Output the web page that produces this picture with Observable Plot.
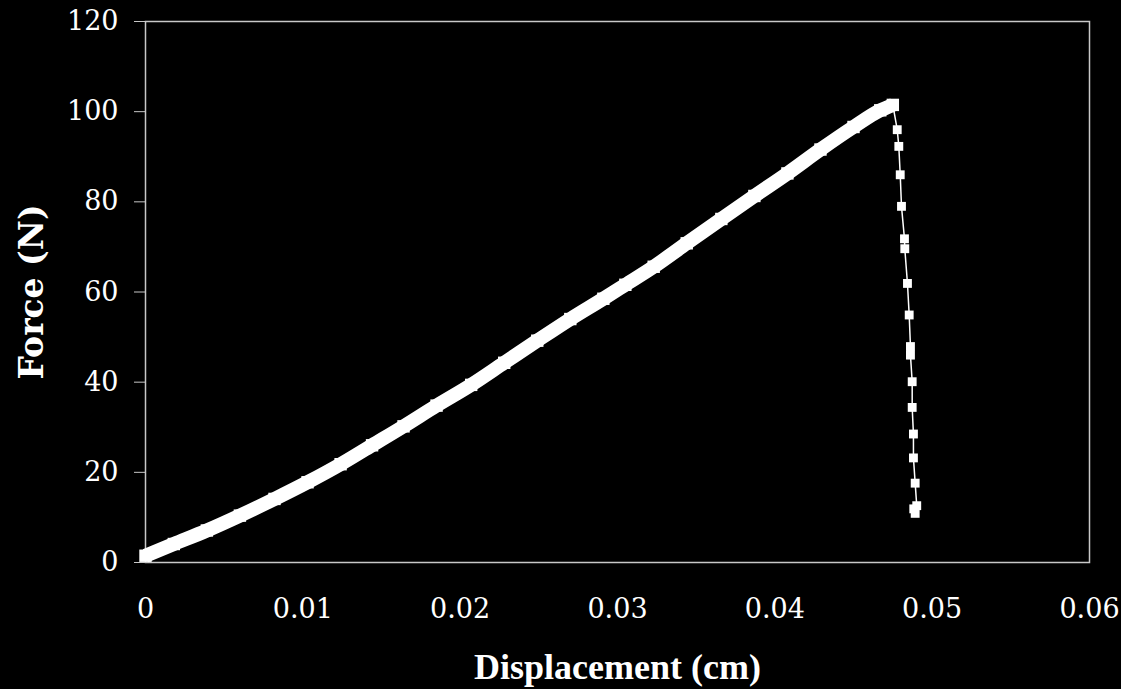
<!DOCTYPE html>
<html>
<head>
<meta charset="utf-8">
<script src="https://cdn.jsdelivr.net/npm/d3@7"></script>
<script src="https://cdn.jsdelivr.net/npm/@observablehq/plot@0.6"></script>
<style>
  html, body { margin: 0; padding: 0; background: #000; }
  #chart { width: 1121px; height: 689px; }
</style>
</head>
<body>
<div id="chart"></div>
<script>
// Rising (loading) part, displacement in cm, force in N
const riseX = [0, 0.0018, 0.0039, 0.0060, 0.0082, 0.0103, 0.0124, 0.0144, 0.0164, 0.0185,
  0.0207, 0.0228, 0.0249, 0.0270, 0.0291, 0.0305, 0.0323, 0.0344, 0.0366, 0.0387,
  0.0408, 0.0429, 0.0450, 0.0467, 0.0475];
const riseF = [1.5, 4.1, 7.1, 10.4, 14.1, 17.8, 21.8, 26.0, 30.2, 34.8,
  39.4, 44.3, 49.2, 54.0, 58.5, 61.6, 65.6, 70.8, 76.2, 81.3,
  86.3, 91.6, 96.6, 100.3, 101.5];
// Failure (drop) part
const dropX = [0.04778, 0.04788, 0.04797, 0.04805, 0.04824, 0.04826, 0.04843, 0.04854, 0.04862, 0.04862,
  0.04873, 0.04873, 0.04881, 0.04881, 0.04892, 0.04902, 0.04883, 0.04892];
const dropF = [96.0, 92.3, 86.0, 79.0, 71.8, 69.6, 61.9, 54.9, 47.9, 46.0,
  40.1, 34.4, 28.5, 23.2, 17.6, 12.6, 11.9, 10.9];

const xTicks = [0, 0.01, 0.02, 0.03, 0.04, 0.05, 0.06];
const yTicks = [0, 20, 40, 60, 80, 100, 120];
const xTitle = "Displacement (cm)";
const yTitle = "Force (N)";

const rise = riseX.map((x, i) => ({x, y: riseF[i]}));
const drop = dropX.map((x, i) => ({x, y: dropF[i]}));
const all = rise.concat(drop);

const chart = Plot.plot({
  width: 1121,
  height: 689,
  marginLeft: 145,
  marginRight: 32,
  marginTop: 21,
  marginBottom: 127,
  style: {background: "#000", color: "#fff", overflow: "visible"},
  x: {domain: [0, 0.06]},
  y: {domain: [0, 120]},
  marks: [
    Plot.frame({stroke: "#c8c8c8", strokeWidth: 1.5}),
    Plot.axisX({ticks: xTicks, tickSize: 0, tickPadding: 36, tickFormat: d => d === 0 ? "0" : String(d),
      fontSize: 27, fontFamily: "DejaVu Serif", label: xTitle, labelAnchor: "center", labelArrow: false,
      labelOffset: 116}),
    Plot.axisY({ticks: yTicks, tickSize: 11, tickPadding: 16, stroke: "#c8c8c8",
      fontSize: 27, fontFamily: "DejaVu Serif", label: yTitle, labelAnchor: "center", labelArrow: false,
      labelOffset: 126}),
    Plot.line(rise, {x: "x", y: "y", stroke: "#fff", strokeWidth: 14, curve: "monotone-x", strokeLinejoin: "round", strokeLinecap: "butt"}),
    Plot.dot(rise, {x: "x", y: "y", symbol: "square", r: 7, fill: "#fff", stroke: "none"}),
    Plot.line(all, {x: "x", y: "y", stroke: "#fff", strokeWidth: 1.5}),
    Plot.dot(drop, {x: "x", y: "y", symbol: "square", r: 5, fill: "#fff", stroke: "none"})
  ]
});

// Style axis titles
d3.select(chart).selectAll('g[aria-label="x-axis label"] text')
  .style("font-family", "'Liberation Serif', serif").style("font-weight", "bold").style("font-size", "36px");
d3.select(chart).selectAll('g[aria-label="y-axis label"] text')
  .style("font-family", "'DejaVu Serif', serif").style("font-weight", "bold").style("font-size", "33px");

document.getElementById("chart").appendChild(chart);
</script>
</body>
</html>
